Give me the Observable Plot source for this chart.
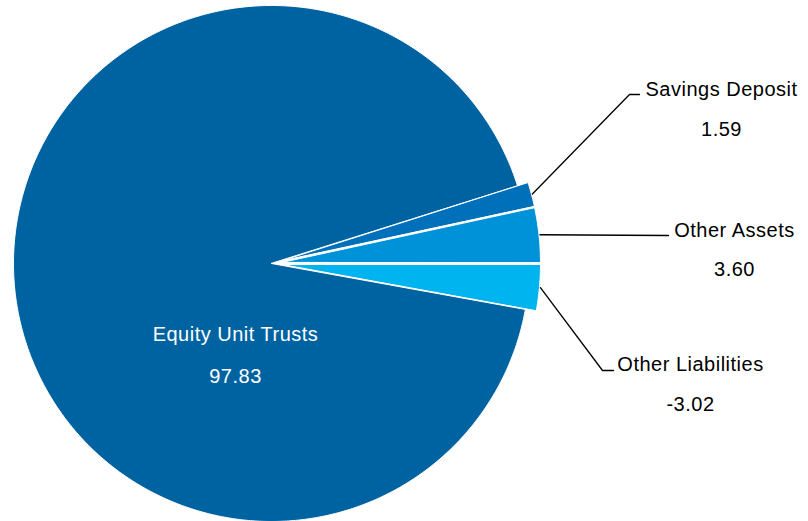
<!DOCTYPE html>
<html>
<head>
<meta charset="utf-8">
<script src="https://cdn.jsdelivr.net/npm/d3@7"></script>
<script src="https://cdn.jsdelivr.net/npm/@observablehq/plot@0.6"></script>
<style>
  html, body { margin: 0; padding: 0; background: #fff; }
  #chart svg text { letter-spacing: 0.5px; }
</style>
</head>
<body>
<div id="chart"></div>
<script>
// ---- data ----
const categories = ["Equity Unit Trusts", "Savings Deposit", "Other Assets", "Other Liabilities"];
const values = [97.83, 1.59, 3.60, -3.02];
const sliceColors = ["#0063a1", "#0070ba", "#0092d9", "#00b4ef"];

// ---- layout (pixels relative to pie centre, y up) ----
const W = 808, H = 521;
const CX = 271, CY = 263, R = 258;
const explode = {"Equity Unit Trusts": 0, "Savings Deposit": 11, "Other Assets": 11, "Other Liabilities": 11};
const layout = {
  "Equity Unit Trusts": {text: [-36, -77], gap: 42, inside: true},
  "Savings Deposit": {elbow: [358, 169], end: [368, 169], text: [450, 168], gap: 40},
  "Other Assets": {elbow: [397, 28], end: [397, 28], text: [463, 27], gap: 39},
  "Other Liabilities": {elbow: [331, -107], end: [342, -107], text: [419, -107], gap: 40}
};

const total = d3.sum(values, Math.abs);
const start = Math.PI / 2 + Math.abs(values[3]) / total * 2 * Math.PI;
const arcs = d3.pie().value(d => Math.abs(d.value)).sort(null)
  .startAngle(start).endAngle(start + 2 * Math.PI)(
    categories.map((c, i) => ({category: c, value: values[i]}))
  );

// slice outlines
const slicePts = [];
for (const a of arcs) {
  const c = a.data.category;
  const mid = (a.startAngle + a.endAngle) / 2;
  const ox = explode[c] * Math.sin(mid), oy = explode[c] * Math.cos(mid);
  slicePts.push({category: c, x: ox, y: oy});
  const n = Math.max(4, Math.ceil((a.endAngle - a.startAngle) / (Math.PI / 360)));
  for (let k = 0; k <= n; k++) {
    const t = a.startAngle + (a.endAngle - a.startAngle) * k / n;
    slicePts.push({category: c, x: ox + R * Math.sin(t), y: oy + R * Math.cos(t)});
  }
}

// leader lines
const leaderPts = [];
for (const a of arcs) {
  const c = a.data.category;
  const L = layout[c];
  if (L.inside) continue;
  const mid = (a.startAngle + a.endAngle) / 2;
  const r0 = R + explode[c] + 1;
  leaderPts.push({category: c, x: r0 * Math.sin(mid), y: r0 * Math.cos(mid)});
  leaderPts.push({category: c, x: L.elbow[0], y: L.elbow[1]});
  leaderPts.push({category: c, x: L.end[0], y: L.end[1]});
}

const labels = arcs.map(a => {
  const c = a.data.category, L = layout[c];
  return {category: c, value: a.data.value.toFixed(2), x: L.text[0], y: L.text[1], y2: L.text[1] - L.gap, inside: !!L.inside};
});
const inside = labels.filter(d => d.inside);
const outside = labels.filter(d => !d.inside);

const font = "'Liberation Sans', Arial, sans-serif";
const chart = Plot.plot({
  width: W, height: H,
  margin: 0,
  style: {fontFamily: font, background: "white"},
  x: {domain: [-CX, W - CX], axis: null},
  y: {domain: [-(H - CY), CY], axis: null},
  color: {domain: categories, range: sliceColors},
  marks: [
    Plot.line(slicePts, {x: "x", y: "y", z: "category", fill: "category", stroke: "white", strokeWidth: 1, curve: "linear-closed"}),
    Plot.line(leaderPts, {x: "x", y: "y", z: "category", stroke: "black", strokeWidth: 1.3}),
    Plot.text(outside, {x: "x", y: "y", text: "category", fill: "black", fontSize: 20, lineAnchor: "bottom", textAnchor: "middle"}),
    Plot.text(outside, {x: "x", y: "y2", text: "value", fill: "black", fontSize: 20, lineAnchor: "bottom", textAnchor: "middle"}),
    Plot.text(inside, {x: "x", y: "y", text: "category", fill: "white", fontSize: 20, lineAnchor: "bottom", textAnchor: "middle"}),
    Plot.text(inside, {x: "x", y: "y2", text: "value", fill: "white", fontSize: 20, lineAnchor: "bottom", textAnchor: "middle"})
  ]
});
document.getElementById("chart").appendChild(chart);
</script>
</body>
</html>
